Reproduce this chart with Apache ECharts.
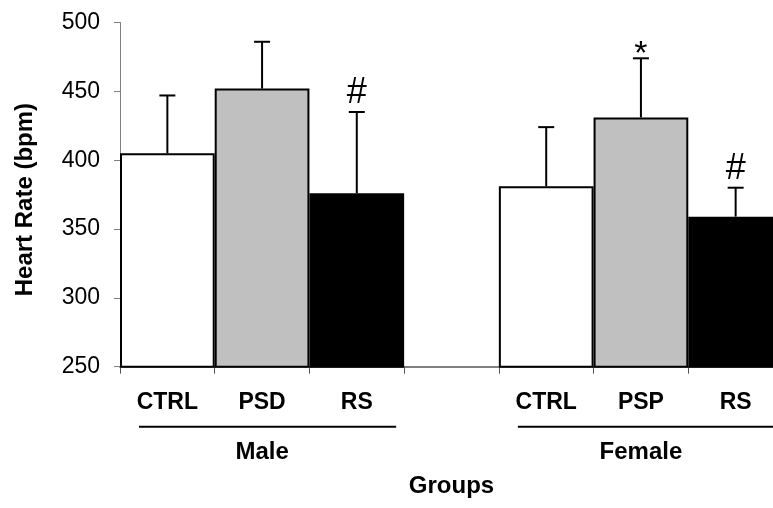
<!DOCTYPE html>
<html>
<head>
<meta charset="utf-8">
<script src="https://cdn.jsdelivr.net/npm/echarts@6/dist/echarts.min.js"></script>
<style>html,body{margin:0;padding:0;background:#fff;}#c{width:773px;height:508px;}</style>
</head>
<body>
<div id="c"></div>
<script>
// Data
var categories = ['CTRL', 'PSD', 'RS', '', 'CTRL', 'PSP', 'RS'];
var means      = [405, 452, 376, null, 381, 431, 359];
var errorTops  = [447, 486, 435, null, 424, 474, 380];
var marks      = ['', '', '#', '', '', '*', '#'];
var groupNames = ['', 'Male', '', '', '', 'Female', ''];
var groupSpans = [[0, 2], [4, 6]];
var yTicks     = [250, 300, 350, 400, 450, 500];
var barColors  = ['#ffffff', '#c0c0c0', '#000000', '#ffffff', '#ffffff', '#c0c0c0', '#000000'];

var FONT = 'Arial, "Liberation Sans", sans-serif';
var chart = echarts.init(document.getElementById('c'), null, {renderer: 'canvas'});

var barData = means.map(function (v, i) {
  return { value: v, itemStyle: { color: barColors[i] } };
});
var errData = means.map(function (v, i) {
  return v == null ? [i, null, null, ''] : [i, v, errorTops[i], marks[i]];
});

var GRID_TOP = 22.5, GRID_H = 344.2;

var option = {
  animation: false,
  grid: { left: 120, width: 663, top: GRID_TOP, height: GRID_H, outerBoundsMode: 'none', containLabel: false },
  xAxis: [{
    type: 'category',
    data: categories,
    boundaryGap: true,
    axisLine: { lineStyle: { color: '#808080', width: 2 } },
    axisTick: { show: true, interval: 0, length: 7, lineStyle: { color: '#555', width: 1 } },
    axisLabel: { interval: 0, margin: 24, fontFamily: FONT, fontWeight: 'bold', fontSize: 23, color: '#000' },
    name: 'Groups',
    nameLocation: 'middle',
    nameGap: 108,
    nameTextStyle: { fontFamily: FONT, fontWeight: 'bold', fontSize: 24, color: '#000' }
  }, {
    type: 'category',
    data: groupNames,
    position: 'bottom',
    boundaryGap: true,
    axisLine: { show: false },
    axisTick: { show: false },
    axisLabel: { interval: 0, margin: 74, fontFamily: FONT, fontWeight: 'bold', fontSize: 24, color: '#000' }
  }],
  yAxis: {
    type: 'value',
    min: yTicks[0],
    max: yTicks[yTicks.length - 1],
    interval: 50,
    splitLine: { show: false },
    axisLine: { show: true, lineStyle: { color: '#808080', width: 1 } },
    axisTick: { show: true, length: 6, lineStyle: { color: '#808080' } },
    axisLabel: { margin: 20, fontFamily: FONT, fontSize: 23, color: '#000' },
    name: 'Heart Rate (bpm)',
    nameLocation: 'middle',
    nameGap: 83,
    nameRotate: 90,
    nameTextStyle: { fontFamily: FONT, fontWeight: 'bold', fontSize: 24, color: '#000', padding: [0, 10, 0, 0] }
  },
  series: [{
    type: 'bar',
    data: barData,
    barCategoryGap: '0%',
    itemStyle: { borderColor: '#000', borderWidth: 2 },
    z: 2
  }, {
    type: 'custom',
    data: errData,
    z: 3,
    renderItem: function (params, api) {
      var m = api.value(1);
      if (m == null || isNaN(m)) return;
      var x = api.value(0);
      var p0 = api.coord([x, m]);
      var p1 = api.coord([x, api.value(2)]);
      var half = 8;
      var children = [{
        type: 'line', shape: { x1: p0[0], y1: p0[1], x2: p1[0], y2: p1[1] },
        style: { stroke: '#000', lineWidth: 2 }
      }, {
        type: 'line', shape: { x1: p1[0] - half, y1: p1[1], x2: p1[0] + half, y2: p1[1] },
        style: { stroke: '#000', lineWidth: 2 }
      }];
      var mk = marks[params.dataIndex];
      if (mk) {
        var star = mk === '*';
        children.push({
          type: 'text',
          style: {
            text: mk, x: p1[0], y: star ? p1[1] + 13 : p1[1] - 1,
            textAlign: 'center', textVerticalAlign: 'bottom',
            font: 'normal ' + (star ? 34 : 36) + 'px ' + FONT, fill: '#000'
          }
        });
      }
      return { type: 'group', children: children };
    }
  }]
};
chart.setOption(option);

// group underlines
function drawUnderlines() {
  var c0 = chart.convertToPixel({ xAxisIndex: 0 }, 0);
  var c1 = chart.convertToPixel({ xAxisIndex: 0 }, 1);
  var band = c1 - c0;
  var y = GRID_TOP + GRID_H + 60;
  var lines = groupSpans.map(function (span) {
    var a = chart.convertToPixel({ xAxisIndex: 0 }, span[0]);
    var b = chart.convertToPixel({ xAxisIndex: 0 }, span[1]);
    return {
      type: 'line',
      shape: { x1: a - band / 2 + 19, y1: y, x2: b + band / 2 - 8, y2: y },
      style: { stroke: '#000', lineWidth: 2 }
    };
  });
  chart.setOption({ graphic: lines });
}
drawUnderlines();
</script>
</body>
</html>
